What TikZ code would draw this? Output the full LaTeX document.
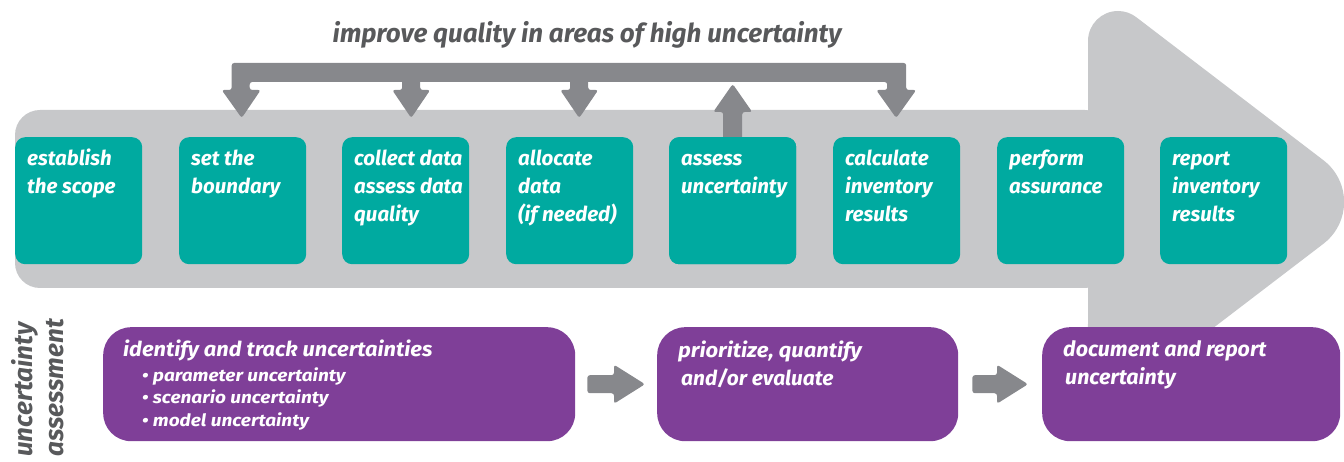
\documentclass[tikz,border=0pt]{standalone}
\usepackage{fontspec}
\usepackage{graphicx}
\setmainfont{Fira Sans}
\newfontfamily\lblfam{Fira Sans}
\newcommand\lbl{\lblfam\bfseries\itshape}
\usetikzlibrary{calc}
\definecolor{bodygrey}{HTML}{C7C8CA}
\definecolor{arrowgrey}{HTML}{87888C}
\definecolor{tealbox}{HTML}{00AAA0}
\definecolor{purplebox}{HTML}{7F3F98}
\definecolor{textgrey}{HTML}{58595B}
\newcommand\mlines[2]{\vtop{\baselineskip=#1\lineskiplimit=-30pt\halign{##\hfil\cr#2\crcr}}}
\newcommand\sx[2]{\scalebox{#1}[1]{#2}}
\begin{document}
\begin{tikzpicture}[x=1pt,y=-1pt,
  tbox/.style={fill=tealbox, rounded corners=10pt, minimum width=127pt, minimum height=127pt, inner sep=0pt, anchor=north west},
  tlbl/.style={anchor=base west, inner sep=0pt, text=white, font=\lbl\fontsize{20.5}{28}\selectfont},
  pbox/.style={fill=purplebox, rounded corners=28pt, minimum height=114pt, inner sep=0pt, anchor=north west},
  plbl/.style={anchor=base west, inner sep=0pt, text=white, font=\lbl\fontsize{20.5}{28}\selectfont},
  pbul/.style={anchor=base west, inner sep=0pt, text=white, font=\lbl\fontsize{17}{23}\selectfont},
  vlbl/.style={rotate=90, anchor=base west, inner sep=0pt, text=textgrey, font=\lbl\fontsize{26}{30}\selectfont},
  arr/.style={fill=arrowgrey, rounded corners=2.5pt}]
\useasboundingbox (0,0) rectangle (1344,462);

% big process arrow
\fill[bodygrey, rounded corners=25pt] (1110,110) -- (15,110) -- (15,288) -- (1110,288) -- cycle;
\fill[bodygrey] (1088,250) -- (1088,41) arc[start angle=180, end angle=307.4, radius=30]
  -- (1323.5,160.3) arc[start angle=-52.6, end angle=52.6, radius=52.5]
  -- (1136.2,386.8) arc[start angle=52.6, end angle=180, radius=30] -- cycle;

% title
\node[anchor=base, inner sep=0pt, text=textgrey, font=\lbl\fontsize{26}{30}\selectfont] (title) at (587,43) {improve quality in areas of high uncertainty};

% teal step boxes
\node[tbox] (b1) at (15,137) {};
\node[tbox] (b2) at (179,137) {};
\node[tbox] (b3) at (342,137) {};
\node[tbox] (b4) at (506,137) {};
\node[tbox] (b5) at (669,137) {};
\node[tbox] (b6) at (833,137) {};
\node[tbox] (b7) at (997,137) {};
\node[tbox] (b8) at (1160,137) {};

% feedback arrows
\coordinate (dL) at ($(b2.north)+(-1,-19)$);
\coordinate (dR) at ($(b6.north)+(-0.5,-19)$);
\coordinate (dC) at ($(b3.north)+(5.5,-19)$);
\coordinate (dA) at ($(b4.north)+(9.5,-19)$);
\coordinate (uA) at (b5.north);
\fill[arr] ($(dL)+(-10,-55)$) -- ($(dR)+(10,-55)$) -- ($(dR)+(10,-28)$) -- ($(dR)+(20,-28)$) -- (dR)
  -- ($(dR)+(-20,-28)$) -- ($(dR)+(-9,-28)$) -- ($(dR)+(-9,-36)$) -- ($(dL)+(8,-36)$) -- ($(dL)+(8,-28)$)
  -- ($(dL)+(19,-28)$) -- (dL) -- ($(dL)+(-20,-28)$) -- ($(dL)+(-10,-28)$) -- cycle;
\foreach \p in {dC,dA}{
  \fill[arr] ($(\p)+(-9,-40)$) -- ($(\p)+(9,-40)$) -- ($(\p)+(9,-28)$) -- ($(\p)+(19,-28)$) -- (\p)
    -- ($(\p)+(-19,-28)$) -- ($(\p)+(-9,-28)$) -- cycle;
}
\fill[arr] ($(uA)+(-9.5,4)$) -- ($(uA)+(-9.5,-25)$) -- ($(uA)+(-19.5,-25)$) -- ($(uA)+(0,-53)$)
  -- ($(uA)+(19.5,-25)$) -- ($(uA)+(9.5,-25)$) -- ($(uA)+(9.5,4)$) -- cycle;

% redraw box over the arrow shaft
\node[tbox] at (b5.north west) {};

% teal labels
\node[tlbl] (t1) at ($(b1.north west)+(12,29)$) {\mlines{28pt}{establish\cr the scope}};
\node[tlbl] (t2) at ($(b2.north west)+(12,29)$) {\mlines{28pt}{set the\cr boundary}};
\node[tlbl] (t3) at ($(b3.north west)+(12,29)$) {\mlines{28pt}{collect data\cr assess data\cr quality}};
\node[tlbl] (t4) at ($(b4.north west)+(12,29)$) {\mlines{28pt}{allocate\cr data\cr (if needed)}};
\node[tlbl] (t5) at ($(b5.north west)+(12,29)$) {\mlines{28pt}{assess\cr uncertainty}};
\node[tlbl] (t6) at ($(b6.north west)+(12,29)$) {\mlines{28pt}{calculate\cr inventory\cr results}};
\node[tlbl] (t7) at ($(b7.north west)+(12,29)$) {\mlines{28pt}{perform\cr assurance}};
\node[tlbl] (t8) at ($(b8.north west)+(12,29)$) {\mlines{28pt}{report\cr inventory\cr results}};

% uncertainty assessment row
\node[vlbl] (v1) at (32,457) {uncertainty};
\node[vlbl] (v2) at (63,457) {assessment};

\node[pbox, minimum width=472pt] (p1) at (103,327) {};
\node[pbox, minimum width=301pt] (p2) at (657,327) {};
\node[pbox, minimum width=298pt] (p3) at (1042,327) {};

\node[plbl] (q1) at ($(p1.north west)+(20,29)$) {\sx{1.065}{identify and track uncertainties}};
\node[pbul] (q1b) at ($(p1.north west)+(39,54)$) {\mlines{23pt}{\sx{1.12}{• parameter uncertainty}\cr \sx{1.12}{• scenario uncertainty}\cr \sx{1.12}{• model uncertainty}}};
\node[plbl] (q2) at ($(p2.north west)+(21,30)$) {\mlines{28pt}{\sx{1.07}{prioritize, quantify}\cr \kern3pt\sx{1.02}{and/or evaluate}}};
\node[plbl, font=\lbl\fontsize{21}{28}\selectfont] (q3) at ($(p3.north west)+(21,29)$) {\mlines{28.5pt}{\sx{1.02}{document and report}\cr \kern2pt\sx{1.02}{uncertainty}}};

\coordinate (hA1) at ($(p1.east)+(12,0)$);
\coordinate (hB1) at ($(p2.west)+(-12,0)$);
\coordinate (hA2) at ($(p2.east)+(14,0)$);
\coordinate (hB2) at ($(p3.west)+(-14,0)$);
\foreach \a/\b in {hA1/hB1,hA2/hB2}{
  \fill[arr] ($(\a)+(0,-9)$) -- ($(\b)+(-31,-9)$) -- ($(\b)+(-31,-19.5)$) -- (\b)
    -- ($(\b)+(-31,19.5)$) -- ($(\b)+(-31,9)$) -- ($(\a)+(0,9)$) -- cycle;
}
\end{tikzpicture}
\end{document}
